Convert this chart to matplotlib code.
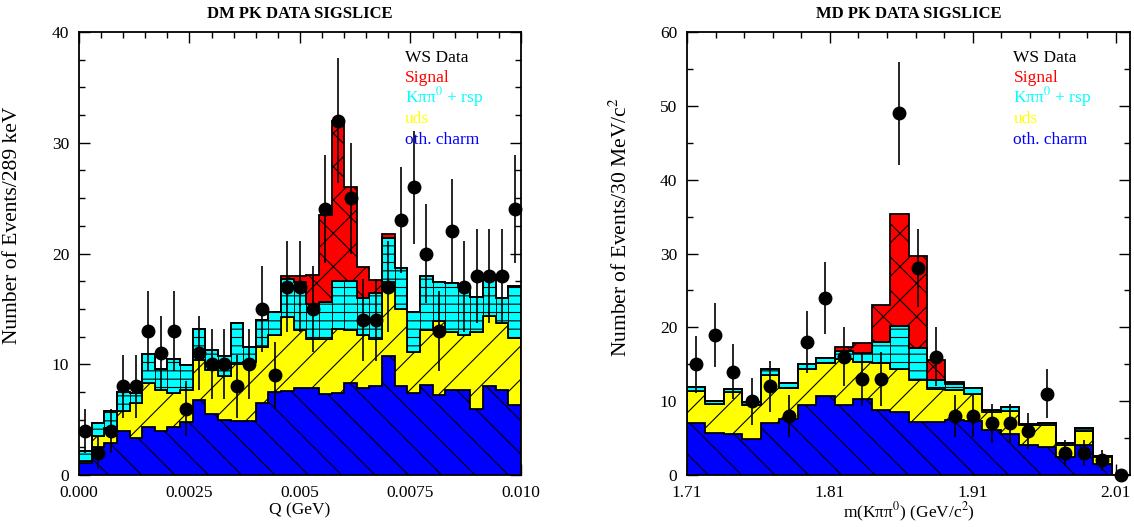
import numpy as np
import matplotlib
matplotlib.use("Agg")
import matplotlib.pyplot as plt
from matplotlib.ticker import MultipleLocator, FixedLocator

plt.rcParams['font.family'] = ['Liberation Serif', 'DejaVu Serif']
plt.rcParams['mathtext.fontset'] = 'stix'
plt.rcParams['hatch.linewidth'] = 0.8

# ---- left panel: Q (GeV), 35 bins from 0 to 0.010 ----
dm_edges = np.linspace(0.0, 0.010, 36)
# cumulative stack tops (charm, +uds, +rsp, +signal)
dm_charm_top = [1.05, 2.55, 2.85, 4.0, 3.3, 4.3, 4.0, 4.3, 4.8, 6.8, 5.5, 5.0,
                4.9, 4.9, 6.5, 7.5, 7.6, 7.9, 7.9, 7.3, 7.4, 8.3, 7.9, 8.0,
                10.7, 8.0, 7.4, 8.1, 7.2, 7.7, 7.7, 6.0, 8.0, 7.7, 6.3]
dm_uds_top = [1.3, 3.5, 4.2, 5.8, 6.5, 8.3, 7.7, 7.4, 7.7, 10.4, 9.5, 8.9,
              10.0, 10.2, 11.6, 12.6, 14.3, 13.1, 12.3, 12.3, 13.2, 13.1, 12.6, 12.3,
              17.4, 15.0, 11.1, 13.1, 13.9, 12.9, 12.6, 12.9, 14.4, 13.7, 12.4]
dm_rsp_top = [2.2, 4.7, 5.8, 7.5, 7.4, 10.9, 9.6, 10.5, 9.9, 13.15, 11.3, 10.7,
              13.75, 11.6, 14.0, 14.7, 17.7, 17.4, 15.4, 15.6, 17.5, 17.5, 16.0, 16.4,
              21.4, 18.65, 14.7, 18.0, 17.4, 17.3, 17.0, 16.1, 17.9, 16.0, 17.1]
dm_signal_top = [2.2, 4.7, 5.8, 7.5, 7.4, 10.9, 9.6, 10.5, 9.9, 13.15, 11.3, 10.7,
                 13.75, 11.6, 14.0, 14.7, 18.0, 18.0, 18.1, 23.5, 32.0, 26.0, 18.8, 17.6,
                 21.8, 18.65, 14.7, 18.0, 17.4, 17.3, 17.0, 16.1, 17.9, 16.0, 17.1]
dm_data = [4, 2, 4, 8, 8, 13, 11, 13, 6, 11, 10, 10, 8, 10, 15, 9, 17, 17, 15,
           24, 32, 25, 14, 14, 17, 23, 26, 20, 13, 22, 17, 18, 18, 18, 24]
dm_xticks = [0.0, 0.0025, 0.005, 0.0075, 0.010]
dm_xticklabels = ['0.000', '0.0025', '0.005', '0.0075', '0.010']

# ---- right panel: m(K pi pi0), 24 bins from 1.71 to 2.02 ----
md_edges = np.linspace(1.71, 2.02, 25)
md_charm_top = [7.0, 5.7, 5.6, 4.9, 7.1, 7.6, 9.5, 10.7, 9.5, 10.3, 8.8, 8.5,
                7.2, 7.2, 7.4, 7.35, 6.1, 5.5, 4.05, 3.75, 2.5, 4.05, 1.45, 0]
md_uds_top = [11.35, 9.6, 11.25, 9.45, 13.6, 11.8, 14.3, 15.2, 15.7, 15.3, 15.2, 14.3,
              12.8, 11.7, 11.5, 11.0, 8.55, 8.65, 6.75, 6.75, 4.05, 6.0, 2.5, 0]
md_rsp_top = [11.95, 10.05, 11.6, 9.9, 14.4, 12.5, 15.0, 15.9, 16.85, 16.55, 18.0, 20.15,
              17.25, 12.9, 12.3, 11.85, 8.85, 9.25, 6.9, 7.05, 4.3, 6.3, 2.6, 0]
md_signal_top = [11.95, 10.05, 11.6, 9.9, 14.4, 12.5, 15.0, 15.9, 17.3, 17.9, 23.0, 35.3,
                 29.6, 15.6, 12.6, 11.85, 8.85, 9.25, 6.9, 7.05, 4.3, 6.3, 2.6, 0]
md_data = [15, 19, 14, 10, 12, 8, 18, 24, 16, 13, 13, 49, 28, 16, 8, 8, 7, 7, 6,
           11, 3, 3, 2, 0]
md_xticks = [1.71, 1.81, 1.91, 2.01]
md_xticklabels = ['1.71', '1.81', '1.91', '2.01']

legend_labels = ['WS Data', 'Signal', 'K\u03c0\u03c0$^0$ + rsp', 'uds', 'oth. charm']
legend_colors = ['black', 'red', 'cyan', 'yellow', 'blue']


def draw_panel(ax, edges, charm, uds, rsp, signal, data):
    charm, uds, rsp, signal = map(np.asarray, (charm, uds, rsp, signal))
    centers = 0.5 * (edges[1:] + edges[:-1])
    width = edges[1] - edges[0]
    zero = np.zeros(len(centers))
    ax.stairs(charm, edges, baseline=zero, fill=True, facecolor='blue',
              edgecolor='k', hatch='\\', lw=0, zorder=1)
    ax.stairs(uds, edges, baseline=charm, fill=True, facecolor='yellow',
              edgecolor='k', hatch='/', lw=0, zorder=1)
    ax.bar(centers, rsp - uds, width=width, bottom=uds, color='cyan',
           edgecolor='k', hatch='--', lw=0.6, zorder=1)
    ax.stairs(signal, edges, baseline=rsp, fill=True, facecolor='red',
              edgecolor='k', hatch='x', lw=0, zorder=1)
    # outlines of each stacked layer
    for top in (charm, uds, rsp, signal):
        ax.stairs(top, edges, baseline=0, color='k', lw=1.3, zorder=2)
    data = np.asarray(data, dtype=float)
    ax.errorbar(centers, data, yerr=np.sqrt(data), fmt='o', color='k', ms=9,
                elinewidth=1.2, capsize=0, zorder=5, clip_on=False)

    for i, (lab, col) in enumerate(zip(legend_labels, legend_colors)):
        ax.text(0.737, 0.933 - i * 0.0463, lab, color=col, fontsize=12.5,
                va='baseline', transform=ax.transAxes)

    ax.set_axisbelow(True)
    ax.tick_params(which='both', direction='in', top=True, right=True,
                   labelsize=12.5, pad=7, width=1)
    ax.tick_params(which='major', length=8)
    ax.tick_params(which='minor', length=4.3)
    for s in ax.spines.values():
        s.set_linewidth(1.3)


fig = plt.figure(figsize=(11.34, 5.27), dpi=100)

ax1 = fig.add_axes([79 / 1134, 52 / 527, 442 / 1134, 443 / 527])
draw_panel(ax1, dm_edges, dm_charm_top, dm_uds_top, dm_rsp_top, dm_signal_top, dm_data)
ax1.set_xlim(0.0, 0.010)
ax1.set_ylim(0, 40)
ax1.xaxis.set_major_locator(FixedLocator(dm_xticks))
ax1.set_xticklabels(dm_xticklabels)
ax1.xaxis.set_minor_locator(MultipleLocator(0.0005))
ax1.yaxis.set_major_locator(MultipleLocator(10))
ax1.yaxis.set_minor_locator(MultipleLocator(2.5))
ax1.set_title('DM PK DATA SIGSLICE', fontsize=12, fontweight='bold', pad=10)
ax1.set_xlabel('Q (GeV)', fontsize=12.5, labelpad=1)
ax1.set_ylabel('Number of Events/289 keV', fontsize=15.5)
ax1.yaxis.set_label_coords(-0.128, 0.563)

ax2 = fig.add_axes([687 / 1134, 52 / 527, 443 / 1134, 443 / 527])
draw_panel(ax2, md_edges, md_charm_top, md_uds_top, md_rsp_top, md_signal_top, md_data)
ax2.set_xlim(1.71, 2.02)
ax2.set_ylim(0, 60)
ax2.xaxis.set_major_locator(FixedLocator(md_xticks))
ax2.set_xticklabels(md_xticklabels)
ax2.xaxis.set_minor_locator(MultipleLocator(0.02, offset=0.01))
ax2.yaxis.set_major_locator(MultipleLocator(10))
ax2.yaxis.set_minor_locator(MultipleLocator(5))
ax2.set_title('MD PK DATA SIGSLICE', fontsize=12, fontweight='bold', pad=10)
ax2.set_xlabel('m(K\u03c0\u03c0$^0$) (GeV/c$^2$)', fontsize=12.5, labelpad=0)
ax2.set_ylabel('Number of Events/30 MeV/c$^2$', fontsize=15.5)
ax2.yaxis.set_label_coords(-0.125, 0.56)

fig.savefig('out.png', dpi=100)
